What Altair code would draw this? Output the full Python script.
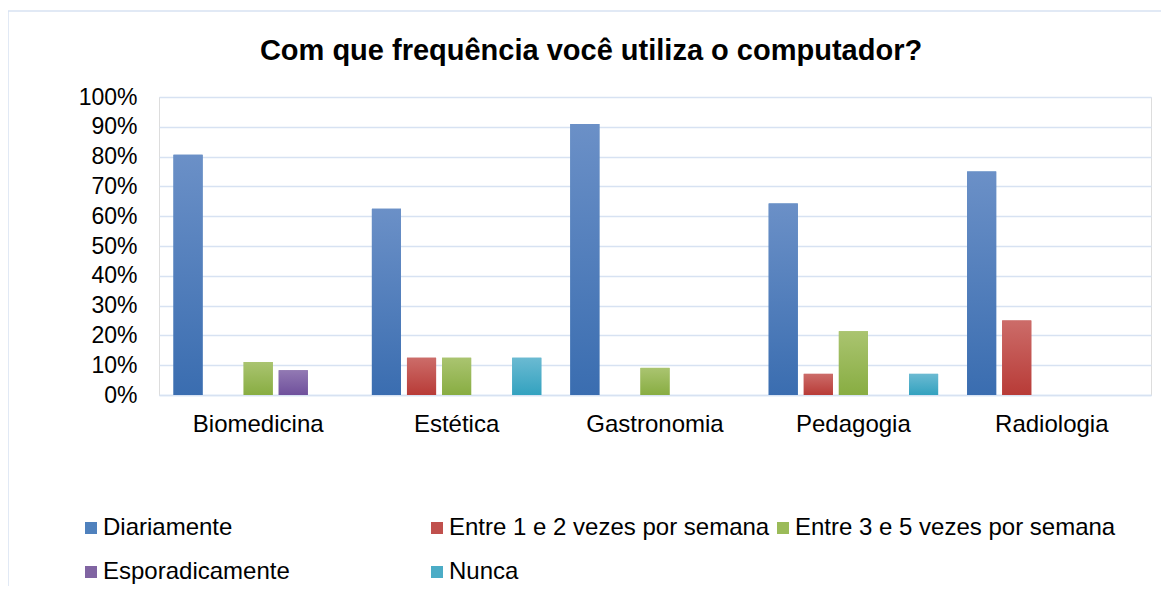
import altair as alt
import pandas as pd

categories = ["Biomedicina", "Estética", "Gastronomia", "Pedagogia", "Radiologia"]
series = ["Diariamente", "Entre 1 e 2 vezes por semana", "Entre 3 e 5 vezes por semana",
          "Esporadicamente", "Nunca"]
diariamente = [0.806, 0.625, 0.909, 0.643, 0.75]
entre_1_2 = [0.0, 0.125, 0.0, 0.071, 0.25]
entre_3_5 = [0.111, 0.125, 0.091, 0.214, 0.0]
esporadicamente = [0.083, 0.0, 0.0, 0.0, 0.0]
nunca = [0.0, 0.125, 0.0, 0.071, 0.0]

colors = ["#4F81BD", "#C0504D", "#9BBB59", "#8064A2", "#4BACC6"]
grad_top = ["#6B90C7", "#CC6C69", "#AAC470", "#9279B3", "#6BBAD2"]
grad_bottom = ["#3A6DB0", "#B83B37", "#88AD42", "#6F509C", "#33A2BF"]

values = [diariamente, entre_1_2, entre_3_5, esporadicamente, nunca]
rows = []
for s, vals in zip(series, values):
    for c, v in zip(categories, vals):
        if v > 0:
            rows.append({"categoria": c, "serie": s, "valor": v})
df = pd.DataFrame(rows)

FONT = "Liberation Sans"
GRID = "#D7E2F2"

x_enc = alt.X("categoria:N", sort=categories, title=None,
              scale=alt.Scale(paddingInner=0.116, paddingOuter=0.058),
              axis=alt.Axis(labelAngle=0, labelFontSize=24, labelFont=FONT, labelColor="#000000",
                            labelPadding=17, ticks=False, domainColor=GRID, domainWidth=1.5))
xoff_enc = alt.XOffset("serie:N", sort=series,
                       scale=alt.Scale(domain=series, paddingInner=0.17, paddingOuter=0.085))
y_enc = alt.Y("valor:Q", title=None,
              scale=alt.Scale(domain=[0, 1]),
              axis=alt.Axis(format=".0%", values=[i / 10 for i in range(11)],
                            labelFontSize=23, labelFont=FONT, labelColor="#000000",
                            labelPadding=22, ticks=False, domain=False,
                            gridColor=GRID, gridWidth=1.5))

frame = alt.Chart(pd.DataFrame({"a": [0]})).mark_rect(
    filled=False, stroke=GRID, strokeWidth=1.5, clip=False
).encode(
    x=alt.value(-151), x2=alt.value(1100), y=alt.value(-86), y2=alt.value(600)
)

base = alt.Chart(df).mark_bar().encode(
    x=x_enc,
    xOffset=xoff_enc,
    y=y_enc,
    color=alt.Color("serie:N", sort=series, title=None,
                    scale=alt.Scale(domain=series, range=colors),
                    legend=alt.Legend(orient="none", legendX=-80, legendY=419,
                                      direction="horizontal", columns=3, gridAlign="all",
                                      symbolType="square", symbolSize=144, symbolStrokeWidth=0,
                                      labelFontSize=24, labelFont=FONT, labelColor="#000000",
                                      labelOffset=0, labelLimit=0,
                                      columnPadding=1, rowPadding=20)),
)

layers = [frame, base]
for s, t, b in zip(series, grad_top, grad_bottom):
    layers.append(
        alt.Chart(df).transform_filter(alt.datum.serie == s).mark_bar(
            fill=alt.Gradient(gradient="linear",
                              stops=[alt.GradientStop(color=t, offset=0),
                                     alt.GradientStop(color=b, offset=1)],
                              x1=0, x2=0, y1=0, y2=1)
        ).encode(x=x_enc, xOffset=xoff_enc, y=y_enc)
    )

chart = alt.layer(*layers).properties(
    width=992,
    height=298,
    autosize=alt.AutoSizeParams(type="none"),
    padding={"left": 151, "top": 89, "right": 10, "bottom": 191},
    title=alt.TitleParams("Com que frequência você utiliza o computador?",
                          font=FONT, fontSize=29, fontWeight="bold", color="#000000",
                          anchor="middle", dx=-64, offset=-56),
).configure_view(stroke=None).configure(background="white")

chart.save("out.html", embed_options={"renderer": "svg", "actions": False})
